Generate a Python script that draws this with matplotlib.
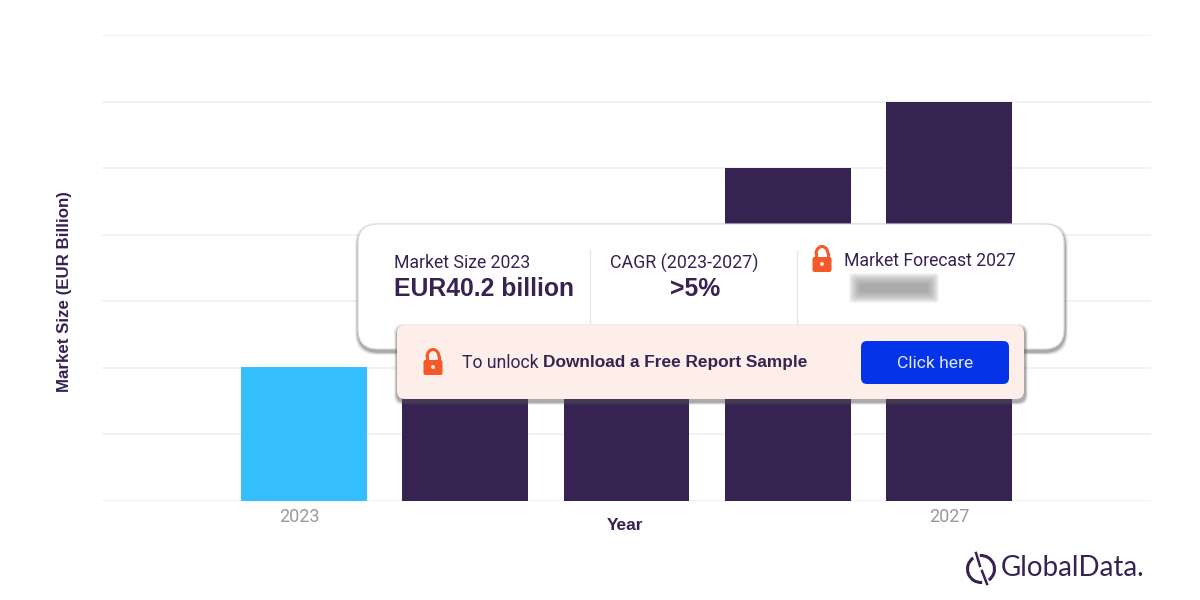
import matplotlib.pyplot as plt
import numpy as np
from matplotlib.patches import Arc, Circle, FancyBboxPatch
from matplotlib.transforms import ScaledTranslation

plt.rcParams['font.family'] = ['Roboto', 'Lato', 'DejaVu Sans']

YEARS = [2023, 2024, 2025, 2026, 2027]
MARKET_SIZE = [40.2, 60, 80, 100, 120]
SHOWN_TICKS = [0, 4]
SHOWN_TICK_LABELS = ['2023', '2027']
GRID_VALUES = [0, 20, 40, 60, 80, 100, 120, 140]

COLOR_ACTUAL = '#35bfff'
COLOR_FORECAST = '#362352'
COLOR_TEXT = '#362352'
COLOR_LOCK = '#f4592a'
BOLD_FONT = ['Liberation Sans', 'DejaVu Sans']


def rounded_box(ax, x0, y0, x1, y1, radius, **kwargs):
    box = FancyBboxPatch((x0 + radius, y0 + radius), x1 - x0 - 2 * radius, y1 - y0 - 2 * radius,
                         boxstyle='round,pad={},rounding_size={}'.format(radius, radius), **kwargs)
    ax.add_patch(box)


def draw_lock(ax, cx, top, z):
    # Shackle and body of the padlock icon
    ax.add_patch(Arc((cx, top + 8), 12, 15, theta1=180, theta2=360, color=COLOR_LOCK, lw=2.2, zorder=z))
    ax.plot([cx - 6, cx - 6], [top + 8, top + 12], color=COLOR_LOCK, lw=2.2, zorder=z)
    ax.plot([cx + 6, cx + 6], [top + 8, top + 12], color=COLOR_LOCK, lw=2.2, zorder=z)
    rounded_box(ax, cx - 9.5, top + 11, cx + 9.5, top + 26, 2, fc=COLOR_LOCK, ec='none', zorder=z)
    ax.add_patch(Circle((cx, top + 18), 2, fc='#fde3c8', ec='none', zorder=z + 1))


def draw_card(ax):
    # Soft shadow under the white card
    for grow, alpha in [(3, 0.10), (2, 0.18), (1, 0.30)]:
        rounded_box(ax, 358 - grow, 226 - grow, 1065 + grow, 352 + grow, 22, fc='#555555', ec='none',
                    alpha=alpha, zorder=5)
    rounded_box(ax, 358, 224, 1064, 349, 20, fc='white', ec='#dddddd', lw=0.8, zorder=6)

    ax.plot([590, 590], [250, 323], color='#e8e6ea', lw=1, zorder=7)
    ax.plot([797, 797], [250, 323], color='#e8e6ea', lw=1, zorder=7)

    ax.text(394, 263, 'Market Size 2023', fontsize=12.7, color=COLOR_TEXT, va='center', zorder=8)
    ax.text(394, 289, 'EUR40.2 billion', fontsize=17.8, fontweight='bold', family=BOLD_FONT, color=COLOR_TEXT,
            va='center', zorder=8)
    ax.text(684, 263, 'CAGR (2023-2027)', fontsize=12.9, color=COLOR_TEXT, va='center', ha='center', zorder=8)
    ax.text(695, 289, '>5%', fontsize=17.8, fontweight='bold', family=BOLD_FONT, color=COLOR_TEXT, va='center',
            ha='center', zorder=8)
    ax.text(844, 261, 'Market Forecast 2027', fontsize=12.7, color=COLOR_TEXT, va='center', zorder=8)
    draw_lock(ax, 822, 246, 9)

    # Blurred figure behind the paywall
    for grow in range(0, 12):
        rounded_box(ax, 860 - grow, 284 - grow, 928 + grow, 292 + grow, 4, fc='#888888', ec='none',
                    alpha=0.09, zorder=8)


def draw_banner(ax):
    for grow, alpha in [(3, 0.10), (2, 0.18), (1, 0.30)]:
        rounded_box(ax, 397 - grow, 327 - grow, 1025 + grow, 402 + grow, 9, fc='#555555', ec='none',
                    alpha=alpha, zorder=11)
    rounded_box(ax, 397, 325, 1024, 399, 8, fc='#fdeee9', ec='none', zorder=12)
    ax.text(462, 363, 'To unlock', fontsize=12.7, color=COLOR_TEXT, va='center', zorder=13)
    ax.text(543, 363, 'Download a Free Report Sample', fontsize=12.4, fontweight='bold', family=BOLD_FONT,
            color=COLOR_TEXT, va='center', zorder=13)
    rounded_box(ax, 861, 341, 1009, 384, 6, fc='#0433e8', ec='none', zorder=13)
    ax.text(935, 363, 'Click here', fontsize=12.6, color='#dfe6ff', va='center', ha='center', zorder=14)
    draw_lock(ax, 433, 349, 13)


def draw_logo(ax):
    # y runs downward in the overlay, so arc angles are mirrored
    ax.add_patch(Arc((981, 569), 27, 27, theta1=-95, theta2=55, color=COLOR_TEXT, lw=2.2, zorder=3))
    ax.add_patch(Arc((981, 569), 27, 27, theta1=85, theta2=235, color=COLOR_TEXT, lw=2.2, zorder=3))
    ax.plot([976, 980], [553, 566], color=COLOR_TEXT, lw=1.8, zorder=3)
    ax.plot([982, 987], [571, 584], color=COLOR_TEXT, lw=1.8, zorder=3)
    ax.text(1001, 568, 'GlobalData.', fontsize=20, color=COLOR_TEXT, va='center', family='Lato', zorder=3)


def produce_plot():
    fig = plt.figure(figsize=(12, 6), dpi=100, facecolor='white')
    ax = fig.add_axes([102 / 1200, 1 - 501 / 600, (1151 - 102) / 1200, (501 - 35) / 600])

    x = np.arange(len(YEARS))
    colors = [COLOR_ACTUAL] + [COLOR_FORECAST] * (len(YEARS) - 1)
    ax.bar(x, MARKET_SIZE, 0.78, color=colors, zorder=2)

    ax.set_xlim(-1.253, 5.253)
    ax.set_ylim(0, 140)
    ax.set_yticks(GRID_VALUES)
    ax.set_yticklabels([])
    ax.set_xticks(SHOWN_TICKS)
    ax.set_xticklabels(SHOWN_TICK_LABELS, fontsize=13, color='#999999')
    ax.tick_params(length=0, pad=5)
    ax.grid(axis='y', color='#f1f0f1', lw=1.2, zorder=1)
    for side in ax.spines:
        ax.spines[side].set_visible(False)

    # The 2023 label sits a little left of its bar in the reference
    first_label = ax.get_xticklabels()[0]
    first_label.set_transform(first_label.get_transform() + ScaledTranslation(-5 / 100, 0, fig.dpi_scale_trans))

    fig.text(625 / 1200, 1 - 525 / 600, 'Year', fontsize=12.5, fontweight='bold', family=BOLD_FONT, color=COLOR_TEXT,
             ha='center', va='center')
    fig.text(65 / 1200, 1 - 292 / 600, 'Market Size (EUR Billion)', fontsize=12.2, fontweight='bold',
             family=BOLD_FONT, color=COLOR_TEXT, rotation=90, ha='center', va='center')

    # Overlay in pixel coordinates for the card, banner and logo
    overlay = fig.add_axes([0, 0, 1, 1], facecolor='none')
    overlay.set_xlim(0, 1200)
    overlay.set_ylim(600, 0)
    overlay.axis('off')
    draw_card(overlay)
    draw_banner(overlay)
    draw_logo(overlay)

    fig.savefig('out.png', dpi=100)


if __name__ == '__main__':
    produce_plot()
